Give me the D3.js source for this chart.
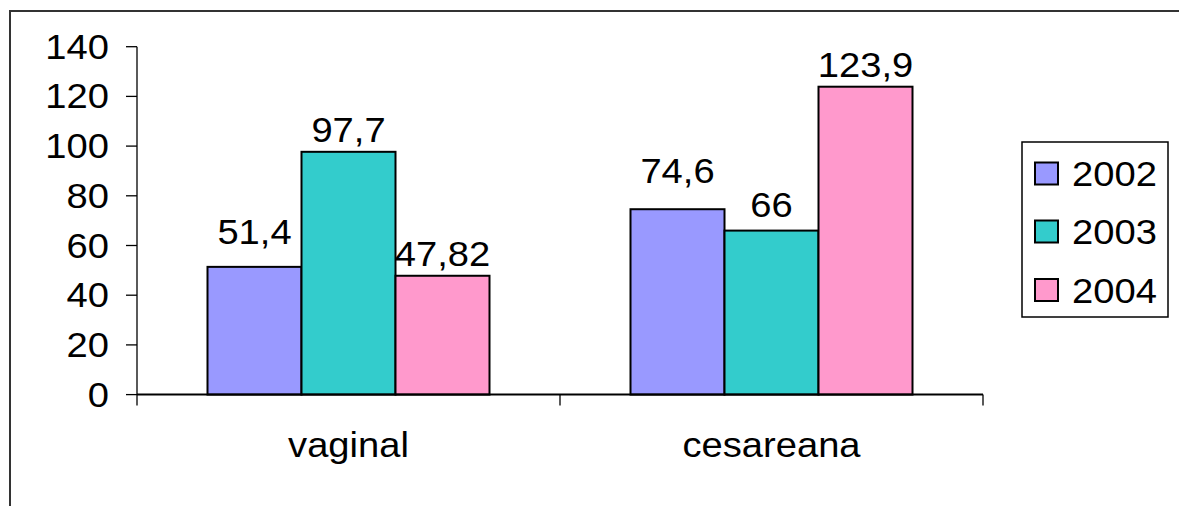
<!DOCTYPE html>
<html>
<head>
<meta charset="utf-8">
<script src="https://cdn.jsdelivr.net/npm/d3@7"></script>
<style>
  html, body { margin: 0; padding: 0; background: #fff; }
  svg { display: block; }
  text { font-family: "Liberation Sans", Arial, sans-serif; fill: #000; }
</style>
</head>
<body>
<svg id="chart" width="1179" height="506"></svg>
<script>
// Births by delivery type, per year
const categories = ["vaginal", "cesareana"];
const years = ["2002", "2003", "2004"];
const values2002 = [51.4, 74.6];
const values2003 = [97.7, 66];
const values2004 = [47.82, 123.9];
const valueLabels2002 = ["51,4", "74,6"];
const valueLabels2003 = ["97,7", "66"];
const valueLabels2004 = ["47,82", "123,9"];
const yTicks = [0, 20, 40, 60, 80, 100, 120, 140];

const seriesValues = [values2002, values2003, values2004];
const seriesLabels = [valueLabels2002, valueLabels2003, valueLabels2004];
const colors = ["#9999FF", "#33CCCC", "#FF99CC"];

// label lift above each bar top, px (series x category)
const labelLift = [[23, 26], [10, 14], [10, 10]];

const svg = d3.select("#chart");
const plot = { left: 137, right: 983, top: 46.7, bottom: 394.6 };
const fontSize = 35;
const stretch = 1.09;

// outer frame (continues past the right and bottom edges)
svg.append("rect")
  .attr("x", 10).attr("y", 11)
  .attr("width", 1300).attr("height", 700)
  .attr("fill", "none").attr("stroke", "#333").attr("stroke-width", 2);

const y = d3.scaleLinear().domain([0, 140]).range([plot.bottom, plot.top]);
const x0 = d3.scaleBand().domain(categories).range([plot.left, plot.right]).paddingInner(0).paddingOuter(0);
// group occupies 3 bars out of 4.5 bar-widths (gap width 150%)
const groupPad = 0.75 / 4.5;
const x1 = d3.scaleBand().domain(years)
  .range([x0.bandwidth() * groupPad, x0.bandwidth() * (1 - groupPad)]).padding(0);

function stretchedText(sel, xPos, yPos, anchor) {
  return sel.append("text")
    .attr("transform", `translate(${xPos},${yPos}) scale(${stretch},1)`)
    .attr("text-anchor", anchor)
    .attr("font-size", fontSize);
}

// bars
years.forEach((yr, si) => {
  const g = svg.append("g");
  categories.forEach((cat, ci) => {
    const v = seriesValues[si][ci];
    const bx = x0(cat) + x1(yr);
    g.append("rect")
      .attr("x", bx)
      .attr("y", y(v))
      .attr("width", x1.bandwidth())
      .attr("height", y(0) - y(v))
      .attr("fill", colors[si])
      .attr("stroke", "#000")
      .attr("stroke-width", 2);
  });
});

// y axis
const yAxis = svg.append("g");
yAxis.append("line")
  .attr("x1", plot.left).attr("x2", plot.left)
  .attr("y1", y(140)).attr("y2", y(0))
  .attr("stroke", "#000").attr("stroke-width", 1.3);
yTicks.forEach(t => {
  yAxis.append("line")
    .attr("x1", plot.left - 11).attr("x2", plot.left)
    .attr("y1", y(t)).attr("y2", y(t))
    .attr("stroke", "#000").attr("stroke-width", 1.3);
  stretchedText(yAxis, plot.left - 28, y(t) + 12, "end").text(String(t));
});

// x axis
const xAxis = svg.append("g");
xAxis.append("line")
  .attr("x1", plot.left).attr("x2", plot.right)
  .attr("y1", y(0)).attr("y2", y(0))
  .attr("stroke", "#000").attr("stroke-width", 2);
[plot.left, ...categories.slice(1).map(c => x0(c)), plot.right].forEach(px => {
  xAxis.append("line")
    .attr("x1", px).attr("x2", px)
    .attr("y1", y(0)).attr("y2", y(0) + 11)
    .attr("stroke", "#000").attr("stroke-width", 1.3);
});
categories.forEach(cat => {
  stretchedText(xAxis, x0(cat) + x0.bandwidth() / 2, 457, "middle").text(cat);
});

// value labels
years.forEach((yr, si) => {
  categories.forEach((cat, ci) => {
    const v = seriesValues[si][ci];
    const cx = x0(cat) + x1(yr) + x1.bandwidth() / 2;
    stretchedText(svg, cx, y(v) - labelLift[si][ci], "middle").text(seriesLabels[si][ci]);
  });
});

// legend
const legend = svg.append("g");
legend.append("rect")
  .attr("x", 1022).attr("y", 142)
  .attr("width", 146).attr("height", 175)
  .attr("fill", "#fff").attr("stroke", "#000").attr("stroke-width", 1.5);
const rowY = [173.5, 231.5, 290];
years.forEach((yr, i) => {
  legend.append("rect")
    .attr("x", 1035).attr("y", rowY[i] - 11)
    .attr("width", 23).attr("height", 22)
    .attr("fill", colors[i]).attr("stroke", "#000").attr("stroke-width", 2);
  stretchedText(legend, 1072, rowY[i] + 12.5, "start").text(yr);
});
</script>
</body>
</html>
